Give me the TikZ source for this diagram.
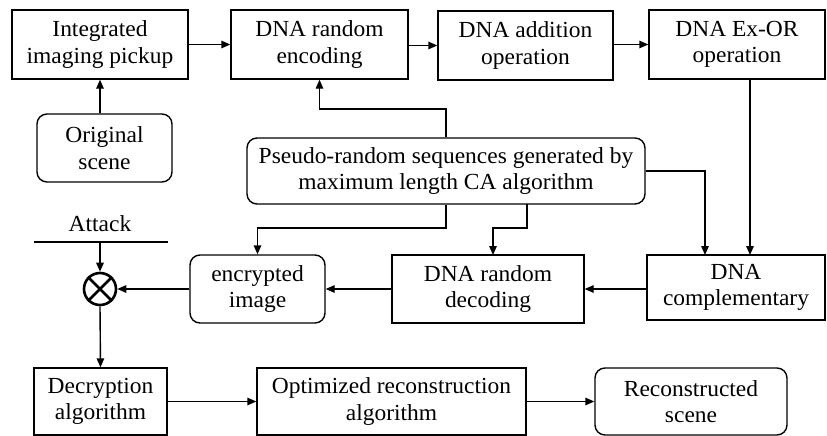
\documentclass[tikz,border=0pt]{standalone}
\usepackage{fontspec}
\setmainfont[FakeStretch=1.02]{Liberation Serif}
\usetikzlibrary{arrows.meta,calc}
\tikzset{
  box/.style={draw, line width=1.4pt, align=center, inner sep=0pt,
    font=\fontsize{23}{26.5}\selectfont},
  rbox/.style={box, rounded corners=10pt},
  arr/.style={line width=1.4pt, -{Triangle[length=9pt,width=7.5pt]}},
  ln/.style={line width=1.4pt}
}
\begin{document}
\begin{tikzpicture}[x=1pt,y=-1pt]
\useasboundingbox (0,0) rectangle (827,436);
% top row
\node[box, minimum width=176, minimum height=69] (pickup) at (100,44.5) {Integrated\\imaging pickup};
\node[box, minimum width=177, minimum height=69] (enc) at (319.5,44.5) {DNA random\\encoding};
\node[box, minimum width=175, minimum height=69] (add) at (525.5,45.5) {DNA addition\\operation};
\node[box, minimum width=176, minimum height=69] (exor) at (737,44.5) {DNA Ex-OR\\operation};
% second row
\node[rbox, minimum width=135, minimum height=68] (orig) at (104.5,148) {Original\\scene};
\node[rbox, minimum width=398, minimum height=66] (pseudo) at (446,171) {Pseudo-random sequences generated by\\maximum length CA algorithm};
% third row
\node[font=\fontsize{23}{26.5}\selectfont, inner sep=0pt] (attack) at (100,224) {Attack};
\coordinate (atl) at (34,242);
\coordinate (atr) at (168,242);
\coordinate (atm) at (100,242);
\node[draw, circle, line width=2.6pt, minimum size=32, inner sep=0pt] (ot) at (100,289) {};
\draw[line width=2.6pt] (ot.north west) -- (ot.south east) (ot.north east) -- (ot.south west);
\node[rbox, minimum width=135, minimum height=68] (encimg) at (257.5,289) {encrypted\\image};
\node[box, minimum width=192, minimum height=68] (dec) at (488,289) {DNA random\\decoding};
\node[box, minimum width=178, minimum height=65] (comp) at (736,287.5) {DNA\\complementary};
% bottom row
\node[box, minimum width=133, minimum height=67] (decr) at (100.5,401.5) {Decryption\\algorithm};
\node[box, minimum width=269, minimum height=67] (opt) at (391.5,401.5) {Optimized reconstruction\\algorithm};
\node[rbox, minimum width=192, minimum height=67] (recon) at (691,401.5) {Reconstructed\\scene};
% connectors
\draw[arr] (pickup.east) -- (enc.west);
\draw[arr] (enc.east |- add.west) -- (add.west);
\draw[arr] (add.east |- exor.west) -- (exor.west);
\draw[arr] (orig.north -| pickup.south) -- (pickup.south);
\draw[arr] (pseudo.north) -- (446,109) -- (319.5,109) -- (enc.south);
\draw[arr] (pseudo.east) -- (705,171) -- (705,255);
\draw[arr] (750,79) -- (750,255);
\draw[arr] (pseudo.south) -- (446,228) -- (257.5,228) -- (encimg.north);
\draw[arr] (527,204) -- (527,228) -- (493,228) -- (493,255);
\draw[arr] (comp.west |- dec.east) -- (dec.east);
\draw[arr] (dec.west) -- (encimg.east);
\draw[arr] (encimg.west) -- (ot.east);
\draw[ln] (atl) -- (atr);
\draw[arr] (atm) -- (ot.north);
\draw[arr] (ot.south) -- (decr.north);
\draw[arr] (decr.east) -- (opt.west);
\draw[arr] (opt.east) -- (recon.west);
\end{tikzpicture}
\end{document}
